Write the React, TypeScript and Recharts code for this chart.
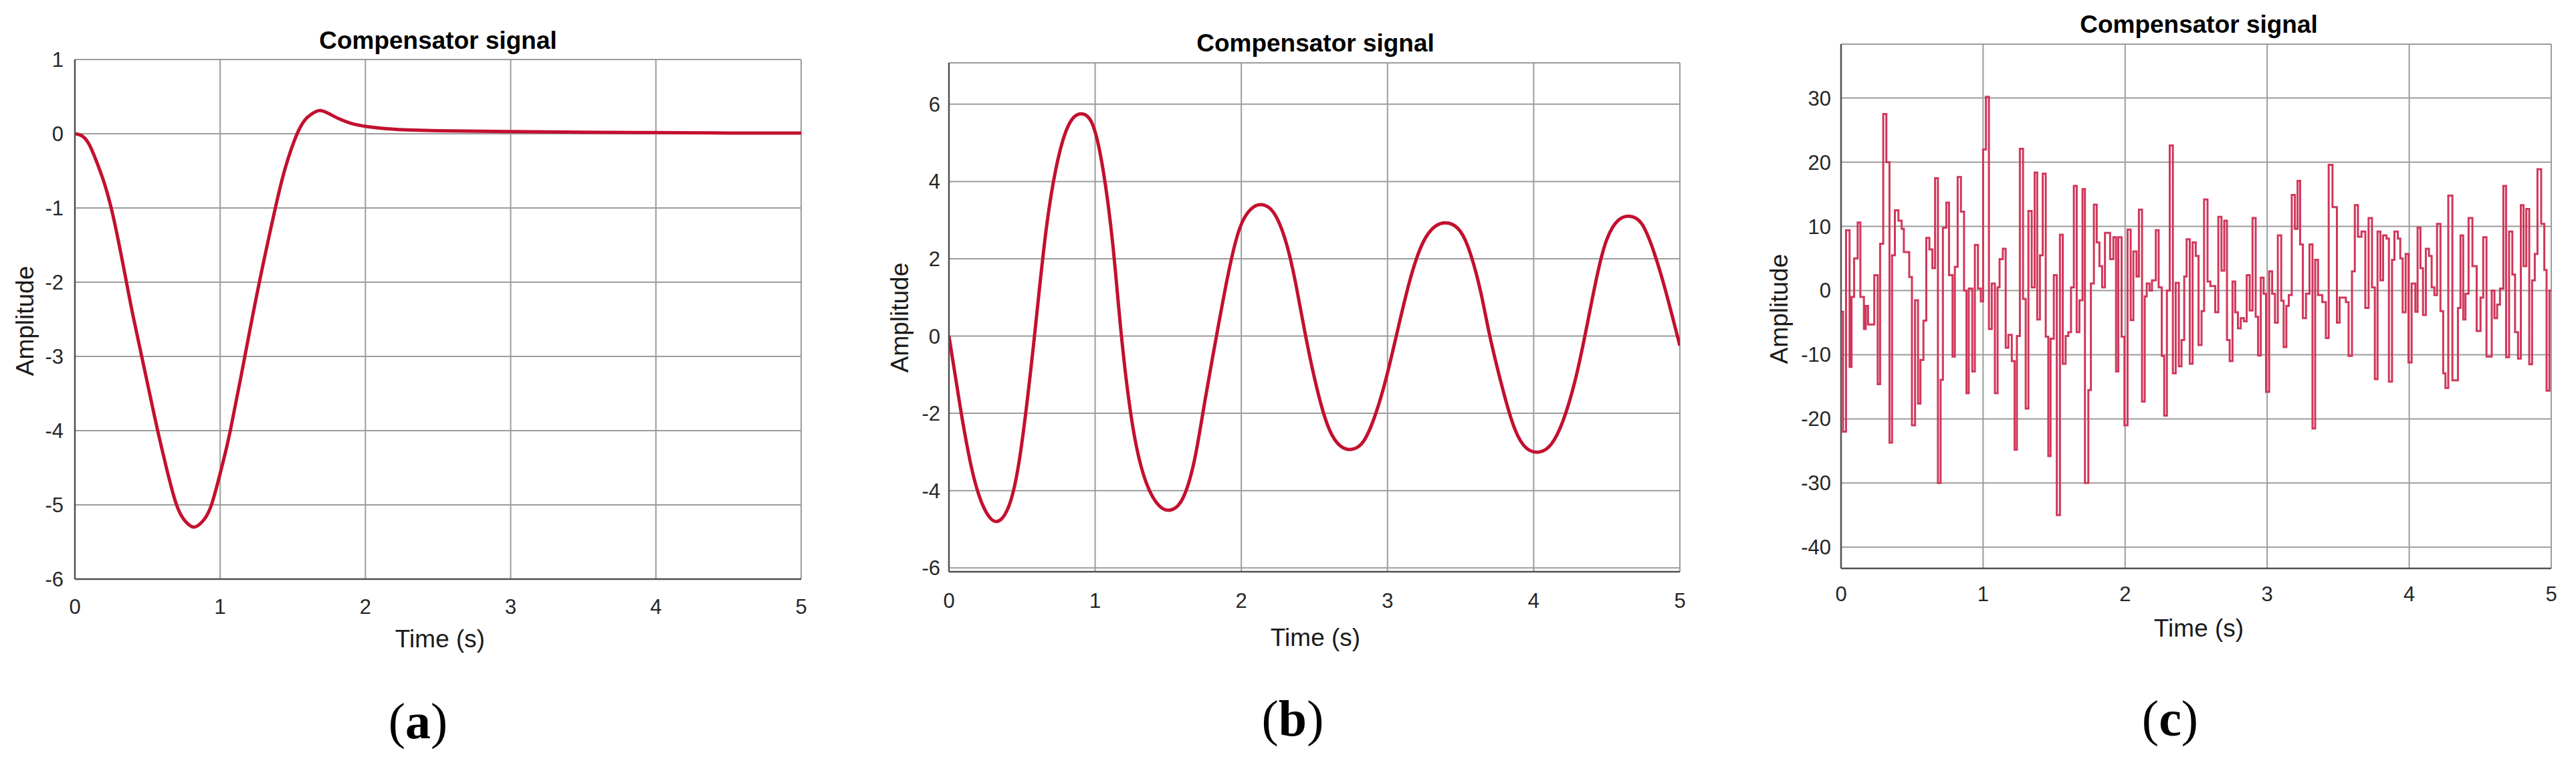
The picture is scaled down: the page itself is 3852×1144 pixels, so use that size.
import { CartesianGrid, Line, LineChart, XAxis, YAxis } from "recharts";

// shared x axis
const TIME_TICKS = [0, 1, 2, 3, 4, 5];

// (a) damped response
const TIME_A = [
  0, 0.05, 0.1, 0.15, 0.2, 0.25, 0.3, 0.355, 0.4, 0.46, 0.52, 0.57, 0.63, 0.7, 0.76, 0.82, 0.88, 0.94,
  1.01, 1.07, 1.17, 1.27, 1.38, 1.45, 1.53, 1.6, 1.66, 1.7, 1.75, 1.82, 1.9, 2.0, 2.2, 2.5, 3.0, 3.5, 4.0,
  4.5, 5.0,
];
const AMP_A = [
  0, -0.03, -0.15, -0.38, -0.65, -1.0, -1.45, -2.0, -2.45, -3.0, -3.55, -4.0, -4.5, -5.0, -5.22, -5.3,
  -5.22, -5.0, -4.5, -4.0, -3.0, -2.0, -1.0, -0.45, 0, 0.22, 0.3, 0.31, 0.27, 0.2, 0.14, 0.1, 0.06, 0.04,
  0.03, 0.02, 0.015, 0.01, 0.01,
];
const TICKS_A = [-6, -5, -4, -3, -2, -1, 0, 1];

// (b) oscillating response
const TIME_B = [
  0, 0.08, 0.16, 0.24, 0.325, 0.41, 0.49, 0.585, 0.67, 0.76, 0.84, 0.91, 0.98, 1.05, 1.12, 1.18, 1.26,
  1.35, 1.44, 1.52, 1.6, 1.68, 1.75, 1.83, 1.91, 1.99, 2.07, 2.14, 2.22, 2.3, 2.37, 2.44, 2.52, 2.6, 2.68,
  2.76, 2.84, 2.92, 2.99, 3.06, 3.15, 3.24, 3.33, 3.42, 3.5, 3.57, 3.64, 3.7, 3.79, 3.87, 3.95, 4.04, 4.12,
  4.2, 4.28, 4.35, 4.43, 4.5, 4.58, 4.66, 4.74, 4.82, 4.9, 5.0,
];
const AMP_B = [
  0, -1.9, -3.5, -4.45, -4.8, -4.4, -3.0, 0, 2.9, 4.8, 5.6, 5.75, 5.5, 4.4, 2.4, 0, -2.4, -3.8, -4.4, -4.5,
  -4.2, -3.2, -1.7, 0, 1.6, 2.8, 3.3, 3.4, 3.2, 2.5, 1.4, 0, -1.4, -2.4, -2.85, -2.93, -2.7, -2.0, -1.1, 0,
  1.4, 2.4, 2.85, 2.92, 2.7, 2.1, 1.1, 0, -1.4, -2.4, -2.9, -3.0, -2.8, -2.2, -1.2, 0, 1.5, 2.5, 3.0, 3.1,
  2.9, 2.2, 1.2, -0.25,
];
const TICKS_B = [-6, -4, -2, 0, 2, 4, 6];

// (c) sampled noisy signal (held between samples)
const TIME_C = [
  0, 0.014, 0.035, 0.06, 0.074, 0.092, 0.117, 0.136, 0.161, 0.174, 0.19, 0.234, 0.258, 0.275, 0.297, 0.319,
  0.341, 0.359, 0.379, 0.404, 0.427, 0.442, 0.48, 0.499, 0.521, 0.542, 0.559, 0.58, 0.6, 0.622, 0.643,
  0.662, 0.682, 0.701, 0.717, 0.741, 0.76, 0.785, 0.801, 0.821, 0.844, 0.866, 0.883, 0.899, 0.924, 0.942,
  0.964, 0.984, 1.0,
  1.02, 1.041, 1.061, 1.083, 1.102, 1.116, 1.139, 1.159, 1.178, 1.202, 1.222, 1.238, 1.259, 1.281, 1.3,
  1.319, 1.342, 1.363, 1.381, 1.4, 1.42, 1.441, 1.459, 1.475, 1.498, 1.519, 1.541, 1.561, 1.581, 1.6,
  1.619, 1.639, 1.659, 1.678, 1.7, 1.717, 1.741, 1.759, 1.78, 1.8, 1.819, 1.838, 1.858, 1.894, 1.917,
  1.936, 1.952, 1.975, 1.995,
  2.017, 2.039, 2.058, 2.08, 2.097, 2.119, 2.138, 2.152, 2.172, 2.189, 2.216, 2.236, 2.258, 2.275, 2.294,
  2.314, 2.336, 2.356, 2.378, 2.397, 2.416, 2.433, 2.455, 2.475, 2.497, 2.517, 2.538, 2.556, 2.58, 2.6,
  2.634, 2.656, 2.678, 2.698, 2.717, 2.736, 2.756, 2.775, 2.794, 2.814, 2.836, 2.856, 2.877, 2.897, 2.919,
  2.936, 2.955, 2.975, 2.992, 3.014,
  3.035, 3.055, 3.075, 3.099, 3.116, 3.135, 3.152, 3.173, 3.195, 3.214, 3.232, 3.251, 3.273, 3.298, 3.319,
  3.338, 3.358, 3.388, 3.413, 3.433, 3.46, 3.491, 3.51, 3.554, 3.573, 3.597, 3.617, 3.639, 3.664, 3.691,
  3.714, 3.738, 3.758, 3.777, 3.797, 3.816, 3.84, 3.857, 3.879, 3.896, 3.92, 3.937, 3.954, 3.975, 3.995,
  4.017,
  4.043, 4.059, 4.079, 4.097, 4.117, 4.139, 4.158, 4.177, 4.196, 4.22, 4.239, 4.255, 4.275, 4.304, 4.343,
  4.361, 4.38, 4.396, 4.418, 4.445, 4.475, 4.502, 4.521, 4.544, 4.581, 4.6, 4.619, 4.639, 4.663, 4.682,
  4.703, 4.726, 4.745, 4.766, 4.786, 4.805, 4.824, 4.845, 4.865, 4.884, 4.903, 4.929, 4.951, 4.967, 4.987,
  5.0,
];
const AMP_C = [
  -3.3, -22, 9.4, -11.9, -1.0, 5.0, 10.6, -1.0, -6.0, -2.4, -5.3, 2.4, -14.6, 7.3, 27.5, 20.0, -23.7, 5.5,
  12.5, 10.9, 9.6, 6.0, 2.1, -21.0, -1.5, -17.6, -10.8, -4.7, 8.2, 6.4, 3.5, 17.5, -30.0, -13.9, 9.8, 13.7,
  2.4, -10.3, 3.7, 17.7, 12.3, 0.0, -16.0, 0.3, -12.6, 7.1, 0.3, -1.7, 22,
  30.2, -6, 1.1, -16, 0.5, 4.9, 6.5, -8.9, -6.9, -11, -24.8, -7.1, 22.1, -1.3, -18.4, 12.4, 0.5, 18.4, -4.5,
  5.5, 18.2, -7.2, -25.8, -7.5, 2.4, -35, 8.7, -11.4, -7.1, -6.5, 0.5, 16.3, -6.5, -1.5, 15.8, -30, -15.5,
  1.1, 13.4, 7.5, 3.8, 0.5, 9, 4.9, 8.3, -12.6, 8.3, -7.2, -21,
  9.5, -4.6, 6.1, 2.2, 12.6, -17.3, -0.9, 1.1, 0, 1.6, 9.4, 0.5, -10.2, -19.5, 0, 22.6, -12.9, 1.2, -11.8,
  -7.7, 2.2, 8.0, -11.4, 7.5, 5.4, -8.5, -3.2, 14.2, 1.4, 0.7, -3.4, 11.5, 3.1, 10.9, -7.7, -11, 1.4, -3.4,
  -5.9, -4.3, -4.8, 2.4, -3.1, 11.3, -4.1, -10.1, 2.0, -0.5, -15.8, 3,
  -0.5, -5, 8.6, -1.6, -8.8, -2.4, -0.7, 14.9, 9.6, 17.1, 7.2, -4.3, -0.5, 7.2, -21.5, 4.8, -0.7, -1.8,
  -7.4, 19.6, 13, -5, -1.1, -1.8, -10.2, 3, 13.3, 8.4, 9.2, -2.7, 11.3, 0.5, -13.8, 9.2, 1.6, 8.6, 8.1,
  -14.2, 4.8, 9.2, 8.1, 5.0, -3.4, 5.7, -11.2, 1.1,
  -3.3, 9.8, 3.5, -3.8, 6.5, 5.4, 0.5, -0.7, 10.4, -3.2, -12.9, -15.2, 14.8, -14, -2.7, 8.6, -4.5, -0.5,
  11.3, 3.8, -6.3, -1.1, 8.3, -10.3, 0, -4.3, -2.2, 0.3, 16.3, -10.4, 9.2, 2.5, -6.5, -10.6, 13.3, 3.8,
  12.7, -11.5, 1.6, 5.7, 18.9, 10.4, 3.2, -15.6, 0, 0,
];
const TICKS_C = [-40, -30, -20, -10, 0, 10, 20, 30];

const toRows = (ts: number[], vs: number[]) => ts.map((t, i) => ({ t, v: vs[i] }));

const FONT = '"Liberation Sans", Arial, Helvetica, sans-serif';
const Y_AXIS_W = 100;
const PAD = 20;
const X_AXIS_H = 70;
const FRAME = "#505050";
const TICK_COLOR = "#262626";

type Box = { x: number; y: number; w: number; h: number };

interface PanelProps {
  box: Box;
  rows: Array<{ t: number; v: number }>;
  domain: [number, number];
  ticks: number[];
  curve: "natural" | "stepAfter";
  stroke: string;
  strokeWidth: number;
  xGap: number;
  yGap: number;
}

function SignalPanel({ box, rows, domain, ticks, curve, stroke, strokeWidth, xGap, yGap }: PanelProps) {
  const tickStyle = { fill: TICK_COLOR, fontSize: 31, fontFamily: FONT };
  const frame = { stroke: FRAME, strokeWidth: 2.5 };
  return (
    <div style={{ position: "absolute", left: box.x - Y_AXIS_W, top: box.y - PAD }}>
      <LineChart
        width={box.w + Y_AXIS_W + PAD}
        height={box.h + PAD + X_AXIS_H}
        data={rows}
        margin={{ top: PAD, right: PAD, bottom: 0, left: 0 }}
      >
        <CartesianGrid stroke="#9c9c9c" strokeWidth={2} />
        <XAxis
          dataKey="t"
          type="number"
          domain={[0, 5]}
          ticks={TIME_TICKS}
          interval={0}
          allowDataOverflow
          height={X_AXIS_H}
          tickSize={0}
          tickMargin={xGap}
          axisLine={frame}
          tick={tickStyle}
        />
        <XAxis
          xAxisId="top"
          orientation="top"
          dataKey="t"
          type="number"
          domain={[0, 5]}
          height={0}
          tick={false}
          tickLine={false}
          axisLine={frame}
        />
        <YAxis
          type="number"
          domain={domain}
          ticks={ticks}
          interval={0}
          allowDataOverflow
          width={Y_AXIS_W}
          tickSize={0}
          tickMargin={yGap}
          axisLine={frame}
          tick={tickStyle}
        />
        <YAxis
          yAxisId="right"
          orientation="right"
          type="number"
          domain={domain}
          width={0}
          tick={false}
          tickLine={false}
          axisLine={frame}
        />
        <Line
          dataKey="v"
          type={curve}
          stroke={stroke}
          strokeWidth={strokeWidth}
          dot={false}
          activeDot={false}
          isAnimationActive={false}
        />
      </LineChart>
    </div>
  );
}

const BOX_A: Box = { x: 112, y: 89, w: 1086, h: 777 };
const BOX_B: Box = { x: 1419, y: 94, w: 1093, h: 761 };
const BOX_C: Box = { x: 2753, y: 66, w: 1062, h: 784 };

export default function App() {
  const titleStyle = { fontFamily: FONT, fontSize: 37, fontWeight: 700, fill: "#000" };
  const labelStyle = { fontFamily: FONT, fontSize: 37, fill: "#1a1a1a" };
  const capStyle = { fontFamily: '"Liberation Serif", "DejaVu Serif", serif', fontSize: 76, fill: "#000" };
  return (
    <div style={{ position: "absolute", left: 0, top: 0, width: 3852, height: 1144, background: "#fff", overflow: "hidden" }}>
      <SignalPanel
        box={BOX_A}
        rows={toRows(TIME_A, AMP_A)}
        domain={[-6, 1]}
        ticks={TICKS_A}
        curve="natural"
        stroke="#c3102f"
        strokeWidth={5}
        xGap={30}
        yGap={17}
      />
      <SignalPanel
        box={BOX_B}
        rows={toRows(TIME_B, AMP_B)}
        domain={[-6.1, 7.07]}
        ticks={TICKS_B}
        curve="natural"
        stroke="#c3102f"
        strokeWidth={5}
        xGap={32}
        yGap={13}
      />
      <SignalPanel
        box={BOX_C}
        rows={toRows(TIME_C, AMP_C)}
        domain={[-43.3, 38.4]}
        ticks={TICKS_C}
        curve="stepAfter"
        stroke="#d0375a"
        strokeWidth={3}
        xGap={27}
        yGap={15}
      />
      <svg width={3852} height={1144} style={{ position: "absolute", left: 0, top: 0, pointerEvents: "none" }}>
        <text x={655} y={73} textAnchor="middle" style={titleStyle}>Compensator signal</text>
        <text x={1967} y={77} textAnchor="middle" style={titleStyle}>Compensator signal</text>
        <text x={3288} y={49} textAnchor="middle" style={titleStyle}>Compensator signal</text>

        <text x={658} y={968} textAnchor="middle" style={labelStyle}>Time (s)</text>
        <text x={1967} y={966} textAnchor="middle" style={labelStyle}>Time (s)</text>
        <text x={3288} y={952} textAnchor="middle" style={labelStyle}>Time (s)</text>

        <text transform="translate(50 480) rotate(-90)" textAnchor="middle" style={labelStyle}>Amplitude</text>
        <text transform="translate(1358 475) rotate(-90)" textAnchor="middle" style={labelStyle}>Amplitude</text>
        <text transform="translate(2673 462) rotate(-90)" textAnchor="middle" style={labelStyle}>Amplitude</text>

        <text x={625} y={1104} textAnchor="middle" style={capStyle}>(<tspan fontWeight={700}>a</tspan>)</text>
        <text x={1933} y={1100} textAnchor="middle" style={capStyle}>(<tspan fontWeight={700}>b</tspan>)</text>
        <text x={3245} y={1100} textAnchor="middle" style={capStyle}>(<tspan fontWeight={700}>c</tspan>)</text>
      </svg>
    </div>
  );
}
